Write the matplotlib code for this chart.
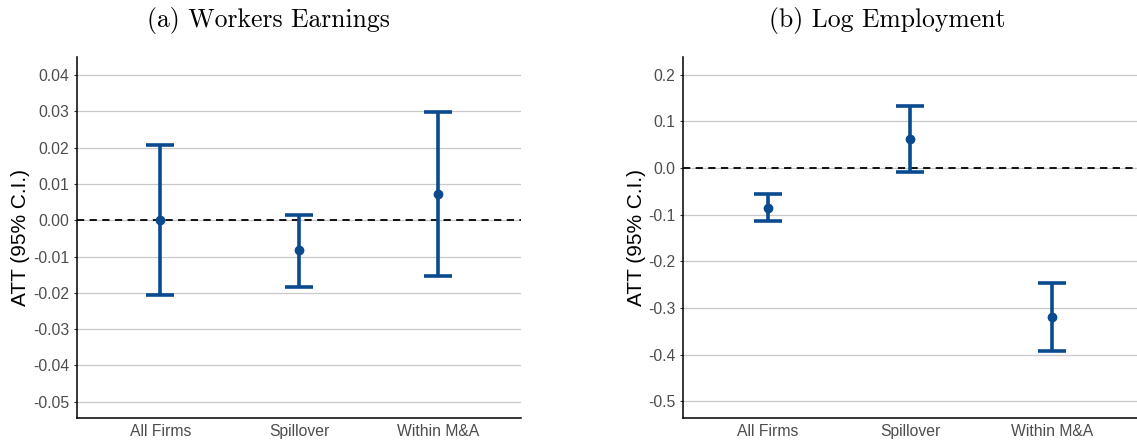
import matplotlib
matplotlib.use("Agg")
import matplotlib.pyplot as plt
import numpy as np

categories = ["All Firms", "Spillover", "Within M&A"]

earn_est = [0.0000, -0.0083, 0.0072]
earn_lo = [-0.0205, -0.0183, -0.0153]
earn_hi = [0.0207, 0.0015, 0.0299]

emp_est = [-0.085, 0.062, -0.320]
emp_lo = [-0.113, -0.008, -0.393]
emp_hi = [-0.055, 0.134, -0.247]

earn_ticks = [0.04, 0.03, 0.02, 0.01, 0.00, -0.01, -0.02, -0.03, -0.04, -0.05]
emp_ticks = [0.2, 0.1, 0.0, -0.1, -0.2, -0.3, -0.4, -0.5]

titles = ["(a) Workers Earnings", "(b) Log Employment"]
ylabel = "ATT (95% C.I.)"

COLOR = "#0A4A8F"
plt.rcParams["font.family"] = ["Liberation Sans", "DejaVu Sans"]

fig = plt.figure(figsize=(11.37, 4.43), dpi=100)
W, H = 1137, 443

def make_ax(left, right, top, bottom):
    return fig.add_axes([left / W, 1 - bottom / H, (right - left) / W, (bottom - top) / H])

ax1 = make_ax(77, 521, 57, 418)
ax2 = make_ax(683, 1137, 57, 418)

def fmt_list(ticks, nd):
    out = []
    for t in ticks:
        s = f"{t:.{nd}f}"
        if s.startswith("-") and float(s) == 0:
            s = s[1:]
        out.append(s)
    return out

def draw(ax, est, lo, hi, ticks, nd, ylim, label_x):
    x = np.arange(1, len(categories) + 1)
    ax.set_xlim(0.4, 3.6)
    ax.set_ylim(*ylim)
    ax.set_yticks(ticks)
    ax.set_yticklabels(fmt_list(ticks, nd))
    ax.yaxis.grid(True, color="#C8C8C8", linewidth=0.9)
    ax.set_axisbelow(True)
    ax.axhline(0, color="black", linestyle=(0, (4, 3)), linewidth=1.3, zorder=2)
    ax.vlines(x, lo, hi, color=COLOR, linewidth=2.6, zorder=3)
    ax.hlines(lo, x - 0.1, x + 0.1, color=COLOR, linewidth=2.6, zorder=3)
    ax.hlines(hi, x - 0.1, x + 0.1, color=COLOR, linewidth=2.6, zorder=3)
    ax.plot(x, est, "o", color=COLOR, markersize=6, zorder=4)
    ax.set_xticks(x)
    ax.set_xticklabels(categories)
    for s in ["top", "right"]:
        ax.spines[s].set_visible(False)
    for s in ["left", "bottom"]:
        ax.spines[s].set_linewidth(1.1)
        ax.spines[s].set_color("black")
    ax.tick_params(axis="both", length=2.5, width=0.8, color="#333333",
                   labelsize=11.3, labelcolor="#4D4D4D", pad=3)
    ax.tick_params(axis="x", length=0, pad=4)
    ax.set_ylabel(ylabel, fontsize=15, color="black")
    ax.yaxis.set_label_coords(label_x, 0.5)

draw(ax1, earn_est, earn_lo, earn_hi, earn_ticks, 2, (-0.0545, 0.045), -47 / 444)
draw(ax2, emp_est, emp_lo, emp_hi, emp_ticks, 1, (-0.536, 0.238), -37 / 454)

fig.text(268 / W, 1 - 21 / H, titles[0], ha="center", va="center",
         fontsize=18.5, family=["cmr10", "DejaVu Serif"])
fig.text(887 / W, 1 - 21 / H, titles[1], ha="center", va="center",
         fontsize=18.5, family=["cmr10", "DejaVu Serif"])

fig.savefig("out.png", dpi=100)
